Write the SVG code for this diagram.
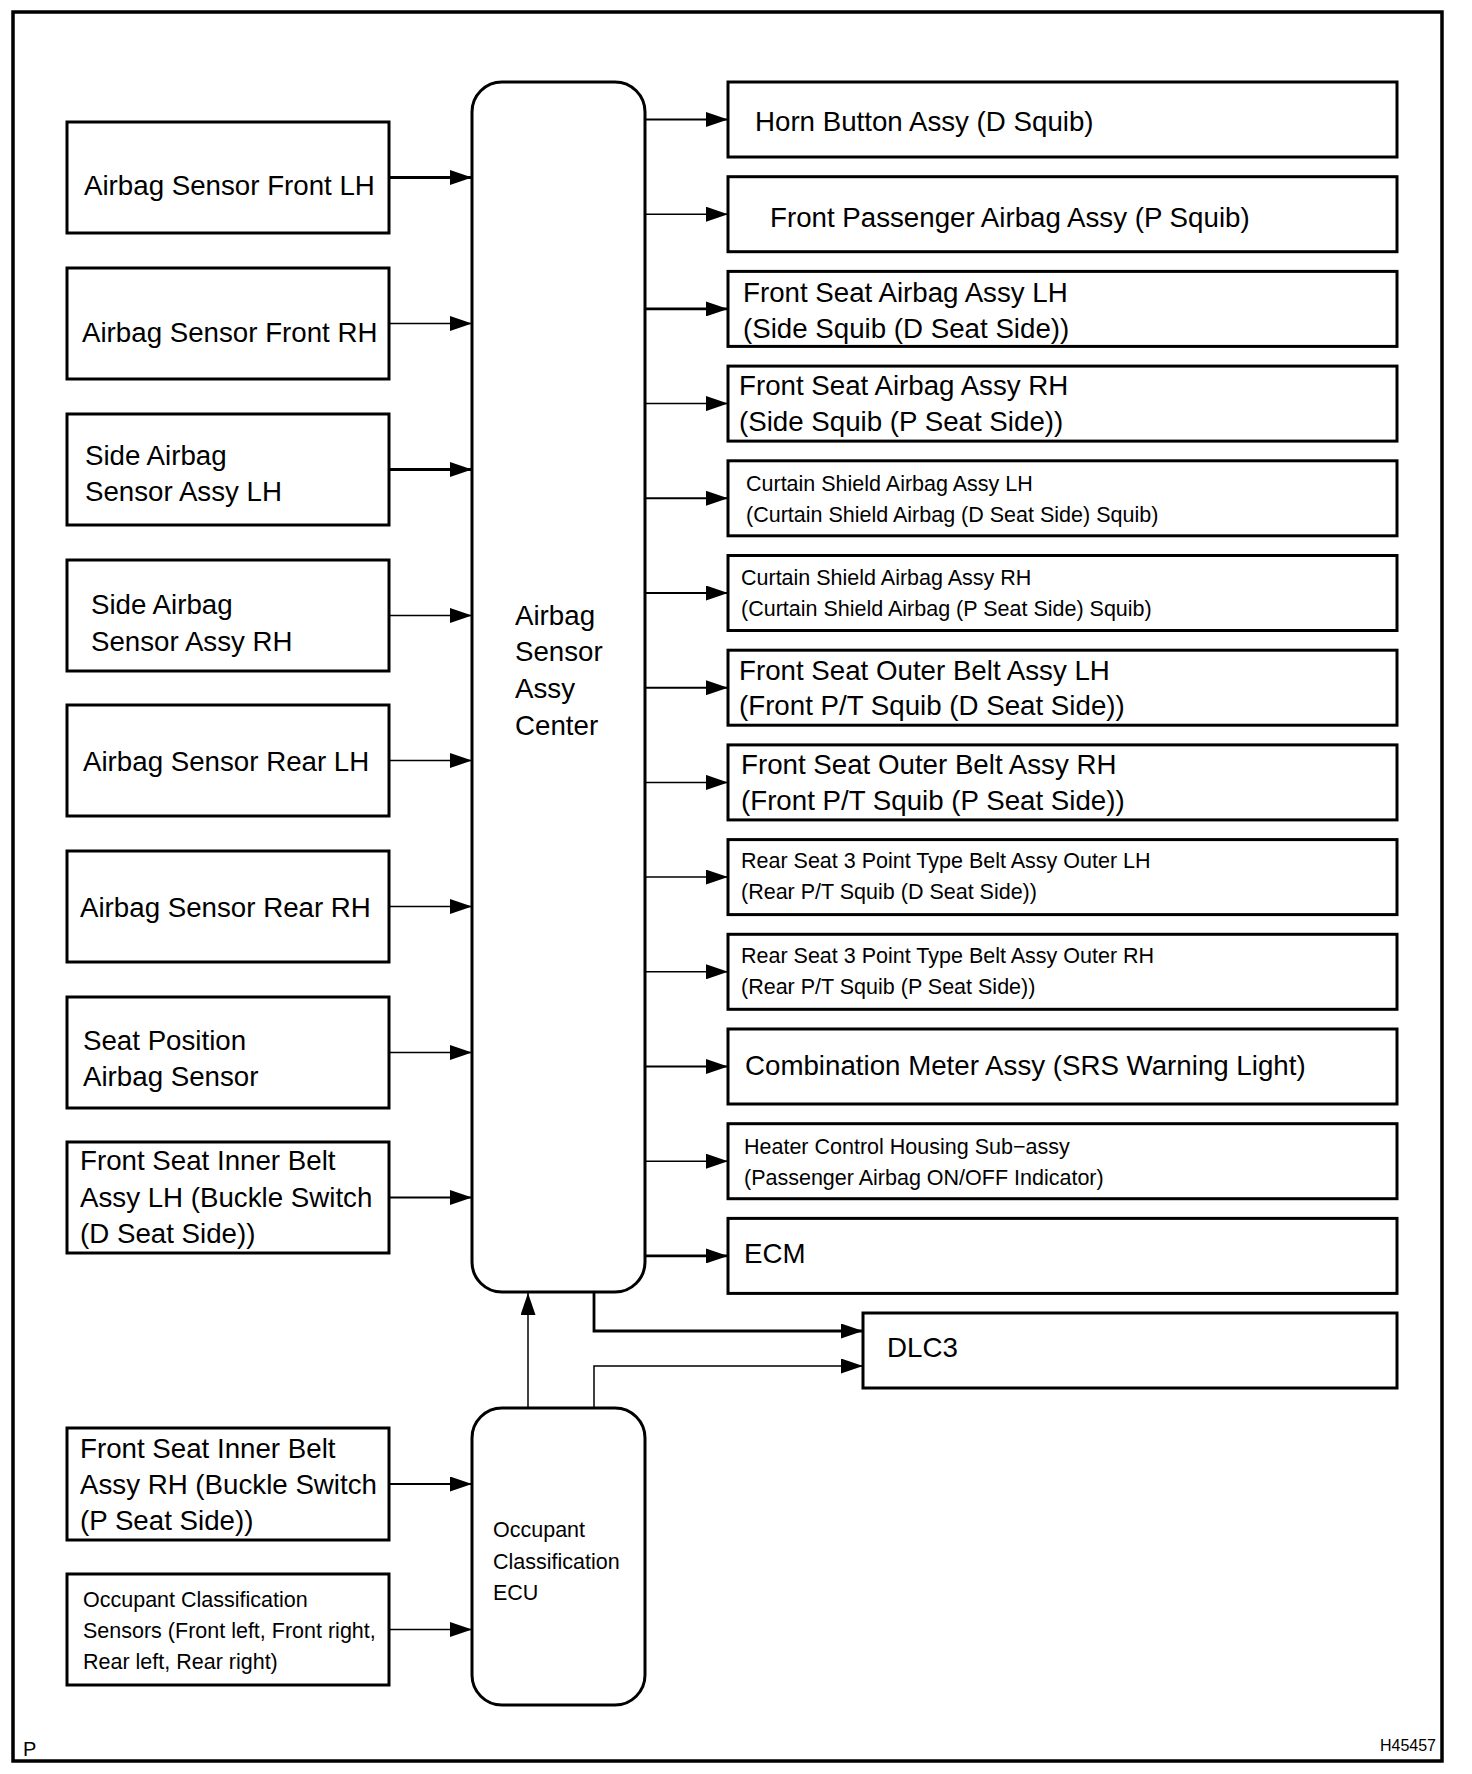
<svg xmlns="http://www.w3.org/2000/svg" width="1472" height="1774" viewBox="0 0 1472 1774">
<defs>
<marker id="arr" viewBox="0 0 22 15" refX="22" refY="7.5" markerWidth="22" markerHeight="15" orient="auto" markerUnits="userSpaceOnUse">
<path d="M0,0 L22,7.5 L0,15 Z" fill="#000"/>
</marker>
<style>
.box{fill:#fff;stroke:#000;stroke-width:3}
.ecu{fill:#fff;stroke:#000;stroke-width:3}
.t{font-family:"Liberation Sans",Arial,sans-serif;font-size:27.7px;fill:#000}
.s{font-family:"Liberation Sans",Arial,sans-serif;font-size:21.5px;fill:#000}
.c{fill:none;stroke:#000;stroke-width:2;marker-end:url(#arr)}
.k{stroke-width:2.8}
.n{stroke-width:1.5}
</style>
</defs>
<rect x="0" y="0" width="1472" height="1774" fill="#fff"/>
<rect x="13" y="12" width="1429" height="1749" fill="none" stroke="#000" stroke-width="3.5"/>
<text x="23" y="1756" style="font-family:'Liberation Sans',Arial,sans-serif;font-size:20px">P</text>
<text x="1436" y="1751" text-anchor="end" style="font-family:'Liberation Sans',Arial,sans-serif;font-size:16px">H45457</text>

<g id="connectors">
<line class="c k" x1="389" y1="177.5" x2="472" y2="177.5"/>
<line class="c n" x1="389" y1="323.5" x2="472" y2="323.5"/>
<line class="c k" x1="389" y1="469.5" x2="472" y2="469.5"/>
<line class="c n" x1="389" y1="615.5" x2="472" y2="615.5"/>
<line class="c n" x1="389" y1="760.5" x2="472" y2="760.5"/>
<line class="c n" x1="389" y1="906.5" x2="472" y2="906.5"/>
<line class="c n" x1="389" y1="1052.5" x2="472" y2="1052.5"/>
<line class="c" x1="389" y1="1197.5" x2="472" y2="1197.5"/>
<line class="c" x1="389" y1="1484" x2="472" y2="1484"/>
<line class="c n" x1="389" y1="1629.5" x2="472" y2="1629.5"/>
<line class="c" x1="645" y1="119.5" x2="728" y2="119.5"/>
<line class="c n" x1="645" y1="214.2" x2="728" y2="214.2"/>
<line class="c k" x1="645" y1="308.9" x2="728" y2="308.9"/>
<line class="c n" x1="645" y1="403.6" x2="728" y2="403.6"/>
<line class="c" x1="645" y1="498.3" x2="728" y2="498.3"/>
<line class="c" x1="645" y1="593" x2="728" y2="593"/>
<line class="c" x1="645" y1="687.7" x2="728" y2="687.7"/>
<line class="c n" x1="645" y1="782.4" x2="728" y2="782.4"/>
<line class="c n" x1="645" y1="877.1" x2="728" y2="877.1"/>
<line class="c n" x1="645" y1="971.8" x2="728" y2="971.8"/>
<line class="c" x1="645" y1="1066.5" x2="728" y2="1066.5"/>
<line class="c n" x1="645" y1="1161.2" x2="728" y2="1161.2"/>
<line class="c k" x1="645" y1="1255.9" x2="728" y2="1255.9"/>
<path class="c k" d="M594,1292 V1331 H863"/>
<path class="c n" d="M594,1408 V1366 H863"/>
<line class="c n" x1="528" y1="1408" x2="528" y2="1293"/>
</g>

<g id="airbag-sensor-front-lh"><rect class="box" x="67" y="122" width="322" height="111"/><text class="t" x="84" y="195">Airbag Sensor Front LH</text></g>
<g id="airbag-sensor-front-rh"><rect class="box" x="67" y="268" width="322" height="111"/><text class="t" x="82" y="342">Airbag Sensor Front RH</text></g>
<g id="side-airbag-sensor-lh"><rect class="box" x="67" y="414" width="322" height="111"/><text class="t" x="85" y="465">Side Airbag</text><text class="t" x="85" y="501">Sensor Assy LH</text></g>
<g id="side-airbag-sensor-rh"><rect class="box" x="67" y="560" width="322" height="111"/><text class="t" x="91" y="614">Side Airbag</text><text class="t" x="91" y="651">Sensor Assy RH</text></g>
<g id="airbag-sensor-rear-lh"><rect class="box" x="67" y="705" width="322" height="111"/><text class="t" x="83" y="771">Airbag Sensor Rear LH</text></g>
<g id="airbag-sensor-rear-rh"><rect class="box" x="67" y="851" width="322" height="111"/><text class="t" x="80" y="917">Airbag Sensor Rear RH</text></g>
<g id="seat-position-sensor"><rect class="box" x="67" y="997" width="322" height="111"/><text class="t" x="83" y="1050">Seat Position</text><text class="t" x="83" y="1086">Airbag Sensor</text></g>
<g id="inner-belt-lh"><rect class="box" x="67" y="1142" width="322" height="111"/><text class="t" x="80" y="1170">Front Seat Inner Belt</text><text class="t" x="80" y="1207">Assy LH (Buckle Switch</text><text class="t" x="80" y="1243">(D Seat Side))</text></g>
<g id="inner-belt-rh"><rect class="box" x="67" y="1428" width="322" height="112"/><text class="t" x="80" y="1458">Front Seat Inner Belt</text><text class="t" x="80" y="1494">Assy RH (Buckle Switch</text><text class="t" x="80" y="1530">(P Seat Side))</text></g>
<g id="occupant-sensors"><rect class="box" x="67" y="1574" width="322" height="111"/><text class="s" x="83" y="1607">Occupant Classification</text><text class="s" x="83" y="1638">Sensors (Front left, Front right,</text><text class="s" x="83" y="1669">Rear left, Rear right)</text></g>

<g id="airbag-sensor-center"><rect class="ecu" x="472" y="82" width="173" height="1210" rx="30" ry="30"/><text class="t" x="515" y="625">Airbag</text><text class="t" x="515" y="661">Sensor</text><text class="t" x="515" y="698">Assy</text><text class="t" x="515" y="735">Center</text></g>
<g id="occupant-ecu"><rect class="ecu" x="472" y="1408" width="173" height="297" rx="30" ry="30"/><text class="s" x="493" y="1537">Occupant</text><text class="s" x="493" y="1569">Classification</text><text class="s" x="493" y="1600">ECU</text></g>

<g id="horn"><rect class="box" x="728" y="82" width="669" height="75"/><text class="t" x="755" y="131">Horn Button Assy (D Squib)</text></g>
<g id="passenger"><rect class="box" x="728" y="176.7" width="669" height="75"/><text class="t" x="770" y="227">Front Passenger Airbag Assy (P Squib)</text></g>
<g id="front-seat-lh"><rect class="box" x="728" y="271.4" width="669" height="75"/><text class="t" x="743" y="302">Front Seat Airbag Assy LH</text><text class="t" x="743" y="338">(Side Squib (D Seat Side))</text></g>
<g id="front-seat-rh"><rect class="box" x="728" y="366.1" width="669" height="75"/><text class="t" x="739" y="395">Front Seat Airbag Assy RH</text><text class="t" x="739" y="431">(Side Squib (P Seat Side))</text></g>
<g id="curtain-lh"><rect class="box" x="728" y="460.8" width="669" height="75"/><text class="s" x="746" y="491">Curtain Shield Airbag Assy LH</text><text class="s" x="746" y="522">(Curtain Shield Airbag (D Seat Side) Squib)</text></g>
<g id="curtain-rh"><rect class="box" x="728" y="555.5" width="669" height="75"/><text class="s" x="741" y="585">Curtain Shield Airbag Assy RH</text><text class="s" x="741" y="616">(Curtain Shield Airbag (P Seat Side) Squib)</text></g>
<g id="outer-belt-lh"><rect class="box" x="728" y="650.2" width="669" height="75"/><text class="t" x="739" y="680">Front Seat Outer Belt Assy LH</text><text class="t" x="739" y="715">(Front P/T Squib (D Seat Side))</text></g>
<g id="outer-belt-rh"><rect class="box" x="728" y="744.9" width="669" height="75"/><text class="t" x="741" y="774">Front Seat Outer Belt Assy RH</text><text class="t" x="741" y="810">(Front P/T Squib (P Seat Side))</text></g>
<g id="rear-belt-lh"><rect class="box" x="728" y="839.6" width="669" height="75"/><text class="s" x="741" y="868">Rear Seat 3 Point Type Belt Assy Outer LH</text><text class="s" x="741" y="899">(Rear P/T Squib (D Seat Side))</text></g>
<g id="rear-belt-rh"><rect class="box" x="728" y="934.3" width="669" height="75"/><text class="s" x="741" y="963">Rear Seat 3 Point Type Belt Assy Outer RH</text><text class="s" x="741" y="994">(Rear P/T Squib (P Seat Side))</text></g>
<g id="combination-meter"><rect class="box" x="728" y="1029" width="669" height="75"/><text class="t" x="745" y="1075">Combination Meter Assy (SRS Warning Light)</text></g>
<g id="heater-control"><rect class="box" x="728" y="1123.7" width="669" height="75"/><text class="s" x="744" y="1154">Heater Control Housing Sub−assy</text><text class="s" x="744" y="1185">(Passenger Airbag ON/OFF Indicator)</text></g>
<g id="ecm"><rect class="box" x="728" y="1218.4" width="669" height="75"/><text class="t" x="744" y="1263">ECM</text></g>
<g id="dlc3"><rect class="box" x="863" y="1313" width="534" height="75"/><text class="t" x="887" y="1357">DLC3</text></g>
</svg>
